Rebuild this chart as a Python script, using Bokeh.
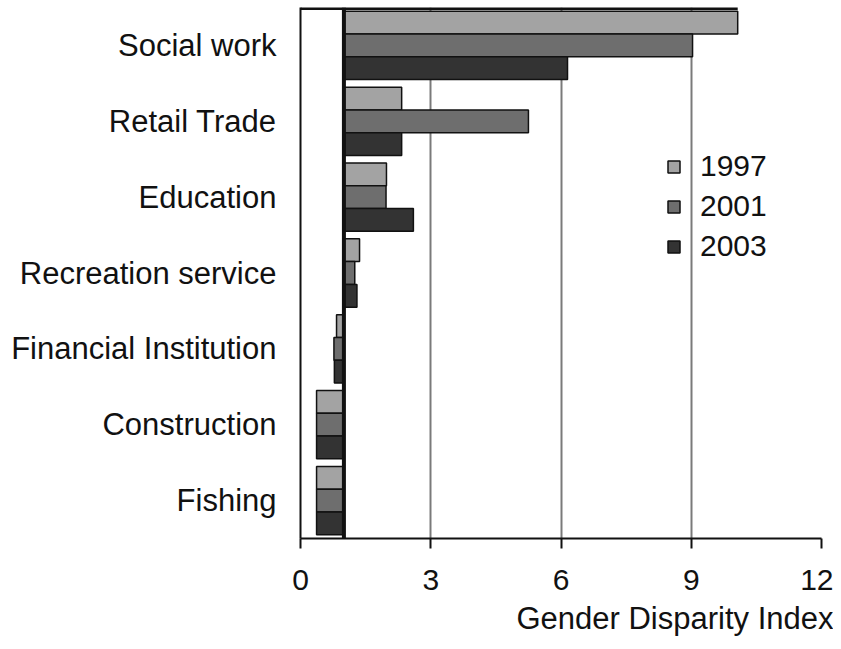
from bokeh.plotting import figure
from bokeh.models import (ColumnDataSource, FactorRange, Range1d, Span, Legend,
                          LegendItem, FixedTicker, Title)
from bokeh.transform import dodge
from bokeh.embed import file_html
from bokeh.resources import INLINE

# ---- data ----
categories = ["Social work", "Retail Trade", "Education", "Recreation service",
              "Financial Institution", "Construction", "Fishing"]
years = ["1997", "2001", "2003"]
v1997 = [10.07, 2.33, 1.98, 1.36, 0.83, 0.37, 0.37]
v2001 = [9.03, 5.25, 1.97, 1.25, 0.77, 0.37, 0.37]
v2003 = [6.15, 2.33, 2.60, 1.30, 0.78, 0.37, 0.37]
x_ticks = [0, 3, 6, 9, 12]
baseline = 1.0
x_label = "Gender Disparity Index"

colors = ["#a3a3a3", "#6e6e6e", "#333333"]
FONT = "Liberation Sans"

src = ColumnDataSource(dict(cat=categories, v1997=v1997, v2001=v2001, v2003=v2003,
                            base=[baseline] * len(categories)))

p = figure(width=833, height=641,
           y_range=FactorRange(factors=categories[::-1], range_padding=0),
           x_range=Range1d(x_ticks[0], x_ticks[-1]),
           output_backend="svg", toolbar_location=None,
           min_border_left=300, min_border_right=12,
           min_border_top=7, min_border_bottom=103)
p.outline_line_color = None
p.background_fill_color = "white"
p.border_fill_color = "white"

# grid
p.ygrid.grid_line_color = None
p.xgrid.ticker = FixedTicker(ticks=x_ticks)
p.xgrid.grid_line_color = "#7a7a7a"
p.xgrid.grid_line_width = 2

renderers = []
offsets = [0.3, 0.0, -0.3]
for yr, col, off, c in zip(years, ["v1997", "v2001", "v2003"], offsets, colors):
    r = p.hbar(y=dodge("cat", off, range=p.y_range), left="base", right=col,
               height=0.3, fill_color=c, line_color="#111111", line_width=1.5,
               source=src)
    renderers.append((yr, r))

# baseline at 1
p.add_layout(Span(location=baseline, dimension="height", line_color="#111111",
                  line_width=4))

# thick top line
top_src = ColumnDataSource(dict(cat=[categories[0]], x0=[x_ticks[0]], x1=[max(v1997)]))
p.segment(x0="x0", x1="x1", y0=dodge("cat", 0.5, range=p.y_range),
          y1=dodge("cat", 0.5, range=p.y_range), line_color="#111111",
          line_width=5, source=top_src)

# axes
xa = p.xaxis[0]
xa.ticker = FixedTicker(ticks=x_ticks)
xa.major_tick_out = 10
xa.major_tick_in = 0
xa.minor_tick_line_color = None
xa.axis_line_width = 2
xa.axis_line_color = "#111111"
xa.major_tick_line_width = 2
xa.major_tick_line_color = "#111111"
xa.major_label_text_font = FONT
xa.major_label_text_font_size = "30px"
xa.major_label_text_color = "#111111"
xa.major_label_standoff = 21

ya = p.yaxis[0]
ya.major_tick_out = 0
ya.major_tick_in = 0
ya.minor_tick_line_color = None
ya.axis_line_width = 2
ya.axis_line_color = "#111111"
ya.major_label_text_font = FONT
ya.major_label_text_font_size = "31px"
ya.major_label_text_color = "#111111"
ya.major_label_standoff = 24

# axis title, right aligned under the axis
p.add_layout(Title(text=x_label, align="right", offset=-12, standoff=12,
                   text_line_height=0.8, vertical_align="bottom",
                   text_font=FONT, text_font_size="31px", text_font_style="normal",
                   text_color="#111111"), "below")

legend = Legend(items=[LegendItem(label=yr, renderers=[r]) for yr, r in renderers],
                location=(366, 275), orientation="vertical",
                glyph_width=15, glyph_height=15, label_standoff=19,
                label_height=30, spacing=6, padding=0, margin=0,
                border_line_color=None, background_fill_alpha=0,
                label_text_font=FONT, label_text_font_size="30px",
                label_text_color="#111111")
p.add_layout(legend)

open("out.html", "w").write(file_html(p, INLINE))
